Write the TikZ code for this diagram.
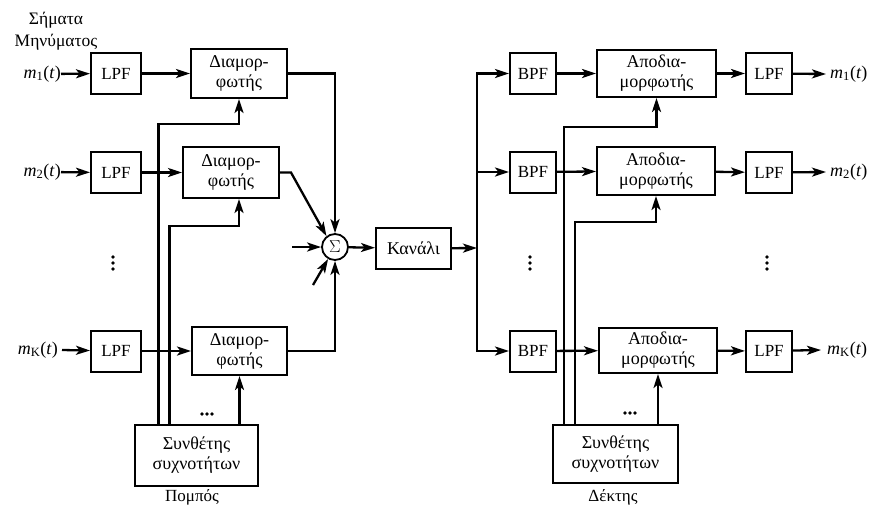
\documentclass[tikz,border=0pt]{standalone}
\usepackage{fontspec}
\setmainfont{Liberation Serif}
\usetikzlibrary{arrows.meta,calc}
\begin{document}
\begin{tikzpicture}[x=1pt,y=-1pt,
  ln/.style={line width=2.3pt},
  arr/.style={ln,-{Stealth[length=14pt,width=9pt,inset=3.5pt]}},
  blk/.style={draw,line width=2pt,inner sep=0pt,align=center,fill=white},
  filt/.style={blk,minimum width=#1,minimum height=41pt,font=\fontsize{17}{19}\selectfont},
  modbox/.style={blk,font=\fontsize{18}{20}\selectfont},
  lbl/.style={inner sep=0pt,font=\fontsize{18}{20}\selectfont}]
\useasboundingbox (0,0) rectangle (872,509);
% ---------- transmitter ----------
\node[lbl,align=center,font=\fontsize{17.5}{22}\selectfont] (title) at (56,31) {Σήματα\\Μηνύματος};
\node[lbl,anchor=east] (m1) at (61,74) {\textit{m}\textsubscript{1}(\textit{t})};
\node[lbl,anchor=east] (m2) at (61,172) {\textit{m}\textsubscript{2}(\textit{t})};
\node[lbl,anchor=east] (mK) at (58,350) {\textit{m}\textsubscript{K}(\textit{t})};
\node[filt=50pt] (lpf1) at (116,73.5) {LPF};
\node[filt=50pt] (lpf2) at (116,172.5) {LPF};
\node[filt=50pt] (lpfK) at (116,351) {LPF};
\node[modbox,minimum width=96pt,minimum height=49pt] (mod1) at (239,73.5) {Διαμορ-\\φωτής};
\node[modbox,minimum width=96pt,minimum height=51pt] (mod2) at (231,172.5) {Διαμορ-\\φωτής};
\node[modbox,minimum width=95pt,minimum height=48pt] (modK) at (239.5,351) {Διαμορ-\\φωτής};
\node[modbox,line width=2.8pt,minimum width=123pt,minimum height=61pt] (synL) at (196.5,455.5) {Συνθέτης\\συχνοτήτων};
\node[lbl,font=\fontsize{17}{19}\selectfont] (pomp) at (192,497) {Πομπός};
\node[draw,circle,line width=1.8pt,minimum size=26pt,inner sep=0pt,font=\fontsize{19}{19}\selectfont] (sum) at (335,247) {$\Sigma$};
\node[filt=75pt,font=\fontsize{18}{20}\selectfont] (chan) at (413.5,248.5) {Κανάλι};
% ---------- receiver ----------
\node[filt=46pt] (bpf1) at (533,73.5) {BPF};
\node[filt=46pt] (bpf2) at (533,172) {BPF};
\node[filt=46pt] (bpfK) at (533,351) {BPF};
\node[modbox,minimum width=119pt,minimum height=47pt] (dem1) at (656.5,73.5) {Αποδια-\\μορφωτής};
\node[modbox,minimum width=118pt,minimum height=48pt] (dem2) at (656,171) {Αποδια-\\μορφωτής};
\node[modbox,minimum width=118pt,minimum height=45pt] (demK) at (658,350.5) {Αποδια-\\μορφωτής};
\node[filt=46pt] (lpfR1) at (769,73.5) {LPF};
\node[filt=46pt] (lpfR2) at (769,172.5) {LPF};
\node[filt=46pt] (lpfRK) at (769,351) {LPF};
\node[lbl,anchor=west] (o1) at (830,74) {\textit{m}\textsubscript{1}(\textit{t})};
\node[lbl,anchor=west] (o2) at (830,172) {\textit{m}\textsubscript{2}(\textit{t})};
\node[lbl,anchor=west] (oK) at (827,350) {\textit{m}\textsubscript{K}(\textit{t})};
\node[modbox,line width=1.8pt,minimum width=125pt,minimum height=58pt] (synR) at (615.5,454) {Συνθέτης\\συχνοτήτων};
\node[lbl,font=\fontsize{17}{19}\selectfont] (dekt) at (613,497) {Δέκτης};
% ---------- transmitter connectors ----------
\draw[arr] (m1) -- (lpf1);
\draw[arr] (m2) -- (lpf2);
\draw[arr] ([xshift=4pt]mK.east) -- (lpfK);
\draw[arr] ([xshift=25pt]synL.north west) |- ([yshift=-25pt]mod1.south) -- (mod1.south);
\draw[arr] ([xshift=36pt]synL.north west) |- ([yshift=-27pt]mod2.south -| mod1.south) -- (mod2.south -| mod1.south);
\draw[arr] (synL.north -| modK.south) -- (modK.south);
\draw[arr] (lpf1) -- (mod1);
\draw[arr] (lpf2) -- (mod2);
\draw[arr] (lpfK) -- (modK);
\draw[arr] (mod1.east) -| (sum.north);
\draw[arr] (mod2.east) -- ++(11,0) -- (sum.128);
\draw[arr] (modK.east) -| (sum.south);
\coordinate (inL) at (292,247);
\coordinate (inLL) at (313,285);
\draw[arr] (inL) -- (sum.west);
\draw[arr] (inLL) -- (sum.240);
\draw[arr] (sum) -- (chan);
% ---------- receiver connectors ----------
\coordinate (split) at (477,248);
\draw[arr] (chan) -- (split);
\draw[arr] (split) |- (bpf1.west);
\draw[arr] (split) |- (bpfK.west);
\draw[arr] (split |- bpf2) -- (bpf2.west);
\draw[arr] ([xshift=12pt]synR.north west) |- ([yshift=-29pt]dem1.south) -- (dem1.south);
\draw[arr] ([xshift=23pt]synR.north west) |- ([yshift=-26pt]dem2.south) -- (dem2.south);
\draw[arr] (synR.north -| demK.south) -- (demK.south);
\draw[arr] (bpf1) -- (dem1);
\draw[arr] (bpf2) -- (dem2);
\draw[arr] (bpfK) -- (demK);
\draw[arr] (dem1) -- (lpfR1);
\draw[arr] (dem2) -- (lpfR2);
\draw[arr] (demK) -- (lpfRK);
\draw[arr] (lpfR1) -- ([xshift=-4pt]o1.west);
\draw[arr] (lpfR2) -- ([xshift=-4pt]o2.west);
\draw[arr] (lpfRK) -- ([xshift=-6pt]oK.west);
% ---------- ellipses ----------
\foreach \x in {113,530,767}{\foreach \dy in {-6,0,6}{\fill (\x,263+\dy) circle (1.8);}}
\foreach \y/\x in {414/207,413/630}{\foreach \dx in {-5,0,5}{\fill (\x+\dx,\y) circle (1.8);}}
\end{tikzpicture}
\end{document}
